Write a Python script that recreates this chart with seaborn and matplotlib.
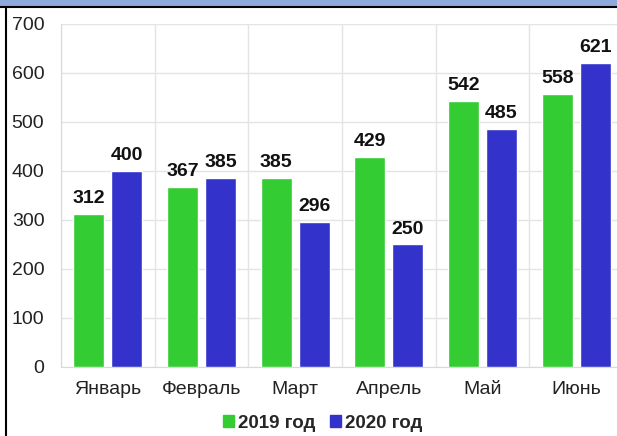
import pandas as pd
import numpy as np
import matplotlib.pyplot as plt
import seaborn as sns
from matplotlib.patches import Rectangle
from matplotlib.lines import Line2D

# data
months = ['Январь', 'Февраль', 'Март', 'Апрель', 'Май', 'Июнь']
values_2019 = [312, 367, 385, 429, 542, 558]
values_2020 = [400, 385, 296, 250, 485, 621]
series = ['2019 год', '2020 год']
colors = ['#33CC33', '#3333CC']

df = pd.DataFrame({
    'Месяц': months * 2,
    'Значение': values_2019 + values_2020,
    'Год': [series[0]] * len(months) + [series[1]] * len(months),
})

sns.set_style('white')
plt.rcParams['font.family'] = ['Liberation Sans', 'DejaVu Sans']

fig = plt.figure(figsize=(6.17, 4.36), dpi=100)
ax = fig.add_axes([0.0989, 0.1583, 0.9108, 0.7867])

sns.barplot(data=df, x='Месяц', y='Значение', hue='Год', palette=colors, saturation=1,
            width=0.81, gap=0.185, ax=ax, legend=False, zorder=3)

for cont in ax.containers:
    ax.bar_label(cont, padding=5, fontsize=14, fontweight='bold', color='#111111')

ax.set_ylim(0, 700)
ax.set_yticks(range(0, 701, 100))
ax.set_xlim(-0.5, len(months) - 0.5)
ax.set_xticks(np.arange(-0.5, len(months), 1), minor=True)
ax.set_xlabel('')
ax.set_ylabel('')
ax.tick_params(axis='both', which='both', length=0, labelsize=14, colors='#222222')
ax.tick_params(axis='y', pad=12)
ax.tick_params(axis='x', pad=10)
ax.grid(axis='y', color='#e4e4e4', linewidth=1, zorder=0)
ax.grid(axis='x', which='minor', color='#e4e4e4', linewidth=1, zorder=0)
for s in ['top', 'right']:
    ax.spines[s].set_visible(False)
for s in ['left', 'bottom']:
    ax.spines[s].set_color('#d9d9d9')

# frame pieces visible in the cropped screenshot
fig.patches.append(Rectangle((0, 1 - 7 / 436), 1, 7 / 436, transform=fig.transFigure,
                             facecolor='#8EA9DB', edgecolor='none', zorder=0))
fig.lines.append(Line2D([0, 1], [1 - 7.5 / 436] * 2, transform=fig.transFigure,
                        color='black', linewidth=1.5))
fig.lines.append(Line2D([5.5 / 617] * 2, [0, 1 - 7.5 / 436], transform=fig.transFigure,
                        color='black', linewidth=1.5))

handles = [Rectangle((0, 0), 1, 1, color=c) for c in colors]
fig.legend(handles, series, loc='center', bbox_to_anchor=(0.523, 13 / 436), ncol=2,
           frameon=False, handlelength=0.6, handleheight=0.6, handletextpad=0.2,
           columnspacing=0.8, prop={'weight': 'bold', 'size': 13.5})

fig.savefig('out.png', dpi=100)
